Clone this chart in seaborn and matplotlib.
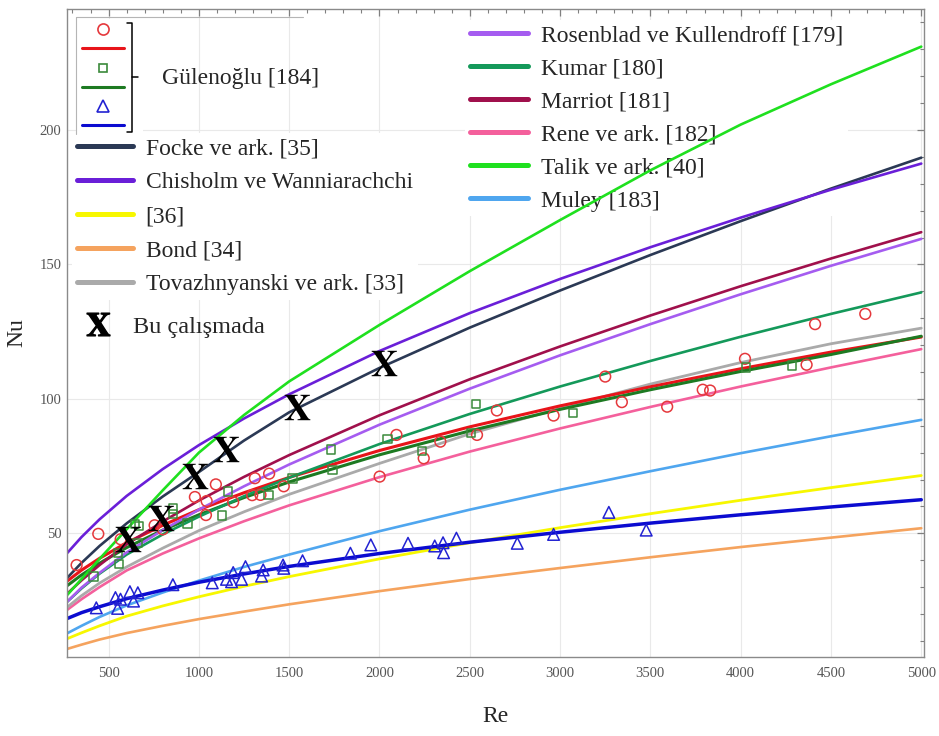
import numpy as np
import pandas as pd
import matplotlib
matplotlib.use("Agg")
import matplotlib.pyplot as plt
import seaborn as sns
from matplotlib.lines import Line2D
from matplotlib.ticker import MultipleLocator

sns.set_style("white")
plt.rcParams['font.family'] = ['Liberation Serif', 'DejaVu Serif']
plt.rcParams['mathtext.fontset'] = 'stix'

# ---------------- data ----------------
re_grid = [270, 350, 450, 600, 800, 1000, 1250, 1500, 2000, 2500, 3000, 3500, 4000, 4500, 5000]

nu_bond      = [7.0, 8.6, 10.5, 12.9, 15.6, 18.1, 20.9, 23.6, 28.5, 33.0, 37.1, 41.1, 44.9, 48.4, 51.9]
nu_yellow36  = [10.8, 13.0, 15.6, 19.2, 23.0, 26.4, 30.3, 33.9, 40.5, 46.5, 52.1, 57.3, 62.3, 67.0, 71.5]
nu_muley     = [12.8, 15.6, 18.9, 23.2, 28.0, 32.4, 37.5, 42.1, 50.8, 58.8, 66.2, 73.1, 79.8, 86.1, 92.2]
nu_fit_blue  = [18.3, 20.5, 22.7, 25.7, 28.9, 31.8, 34.9, 37.7, 42.5, 46.7, 50.4, 53.8, 56.9, 59.8, 62.5]
nu_rene      = [21.5, 25.5, 30.0, 36.2, 42.5, 48.1, 54.5, 60.4, 70.9, 80.4, 89.0, 97.0, 104.6, 111.7, 118.5]
nu_tovazh    = [22.5, 26.8, 31.5, 37.5, 44.5, 51.0, 58.0, 64.5, 76.0, 87.0, 96.5, 105.5, 113.5, 120.5, 126.3]
nu_fit_red   = [32.2, 36.3, 40.7, 46.5, 53.0, 58.8, 65.1, 70.8, 80.8, 89.6, 97.4, 104.5, 111.2, 117.4, 123.0]
nu_fit_green = [30.5, 34.5, 38.9, 44.7, 51.2, 56.9, 63.3, 69.1, 79.2, 88.1, 96.1, 103.4, 110.2, 116.5, 123.3]
nu_kumar     = [24.5, 29.5, 35.0, 42.1, 49.6, 56.2, 63.8, 70.7, 83.2, 94.4, 104.6, 114.1, 123.1, 131.6, 139.6]
nu_rosenblad = [24.5, 29.8, 35.3, 42.9, 51.2, 58.8, 67.5, 75.6, 90.4, 103.8, 116.2, 127.8, 138.9, 149.5, 159.5]
nu_marriot   = [27.5, 32.5, 38.2, 45.9, 54.4, 62.2, 71.0, 79.1, 93.9, 107.3, 119.5, 131.0, 141.9, 152.2, 162.0]
nu_focke     = [33.4, 39.0, 45.3, 53.7, 63.7, 72.8, 84.5, 95.0, 111.5, 126.5, 140.3, 153.5, 166.1, 178.2, 189.7]
nu_chisholm  = [42.6, 48.6, 55.2, 63.9, 73.9, 82.8, 92.7, 101.7, 117.8, 131.9, 144.6, 156.4, 167.4, 177.8, 187.5]
nu_talik     = [27.0, 33.0, 40.5, 51.5, 66.0, 80.0, 94.0, 106.5, 127.5, 147.5, 166.5, 185.0, 202.0, 217.0, 231.0]

# Gülenoğlu experimental points
re_circle = [323, 443, 567, 755, 800, 978, 1039, 1043, 1094, 1190, 1295, 1310, 1341, 1389, 1470,
             2001, 2094, 2245, 2337, 2540, 2650, 2964, 3250, 3342, 3593, 3790, 3831, 4024, 4365, 4412, 4690]
nu_circle = [38.2, 49.8, 47.8, 53.0, 51.5, 63.5, 56.8, 62.0, 68.2, 61.6, 64.2, 70.5, 64.3, 72.2, 67.5,
             71.1, 86.6, 77.9, 84.1, 86.6, 95.7, 93.8, 108.3, 98.8, 97.1, 103.4, 103.1, 114.9, 112.7, 127.8, 131.6]
re_square = [417, 553, 559, 645, 670, 660, 855, 858, 937, 1128, 1162, 1386, 1518, 1732, 1740,
             2045, 2237, 2508, 2536, 3071, 4030, 4285]
nu_square = [33.9, 42.6, 38.5, 53.5, 52.8, 46.5, 57.2, 59.2, 53.7, 56.6, 65.5, 64.3, 70.4, 81.2, 73.6,
             85.0, 80.6, 87.2, 98.1, 94.7, 111.7, 112.4]
re_tri = [432, 538, 550, 566, 618, 638, 662, 856, 1074, 1153, 1181, 1190, 1236, 1258, 1347, 1356,
          1466, 1470, 1574, 1839, 1952, 2158, 2306, 2352, 2355, 2426, 2763, 2964, 3270, 3477]
nu_tri = [22.3, 26.1, 22.1, 25.5, 28.3, 24.8, 27.9, 30.9, 31.6, 32.9, 32.0, 35.4, 32.9, 37.6, 34.1, 36.4,
          38.2, 37.0, 39.8, 42.6, 45.7, 46.3, 45.3, 46.5, 42.8, 48.2, 46.3, 49.6, 57.8, 51.2]

# "Bu çalışmada" points
re_this = [605, 793, 978, 1148, 1546, 2025]
nu_this = [47.8, 55.6, 71.3, 81.4, 97.1, 113.5]

# ---------------- styling ----------------
curves = [
    ("Bond [34]", nu_bond, "#f5a35e", 1.9),
    ("[36]", nu_yellow36, "#f7f700", 2.0),
    ("Muley [183]", nu_muley, "#4fa6ef", 1.9),
    ("fit_blue", nu_fit_blue, "#0b0bd0", 2.5),
    ("Rene ve ark. [182]", nu_rene, "#f4609c", 1.9),
    ("Tovazhnyanski ve ark. [33]", nu_tovazh, "#aaaaaa", 2.0),
    ("fit_red", nu_fit_red, "#e8141a", 2.2),
    ("fit_green", nu_fit_green, "#1d7a22", 2.2),
    ("Kumar [180]", nu_kumar, "#14995a", 1.9),
    ("Rosenblad ve Kullendroff [179]", nu_rosenblad, "#a55cf0", 1.9),
    ("Marriot [181]", nu_marriot, "#a0104c", 1.9),
    ("Focke ve ark. [35]", nu_focke, "#2b3955", 1.9),
    ("Chisholm ve Wanniarachchi", nu_chisholm, "#6a1fd8", 1.9),
    ("Talik ve ark. [40]", nu_talik, "#1fe01f", 1.9),
]
col = {name: c for name, _, c, _ in curves}

fig = plt.figure(figsize=(9.39, 7.36), dpi=100)
ax = fig.add_axes([0.0714, 0.1073, 0.9126, 0.8805])

for name, vals, c, lw in curves:
    d = pd.DataFrame({"Re": re_grid, "Nu": vals})
    sns.lineplot(data=d, x="Re", y="Nu", color=c, linewidth=lw, ax=ax,
                 estimator=None, sort=True, legend=False)

c_red, c_grn, c_blu = "#e5383c", "#3b8a3b", "#2222d2"
sns.scatterplot(x=re_circle, y=nu_circle, marker="o", s=60, color=c_red,
                facecolors="none", edgecolor=c_red, linewidth=1.1, ax=ax, zorder=4)
sns.scatterplot(x=re_square, y=nu_square, marker="s", s=36, color=c_grn,
                facecolors="none", edgecolor=c_grn, linewidth=1.1, ax=ax, zorder=4)
sns.scatterplot(x=re_tri, y=nu_tri, marker="^", s=70, color=c_blu,
                facecolors="none", edgecolor=c_blu, linewidth=1.1, ax=ax, zorder=4)
sns.scatterplot(x=re_this, y=nu_this, marker=r"$\mathbf{X}$", s=18.5 ** 2,
                color="black", linewidth=0, ax=ax, zorder=5)

# ---------------- axes ----------------
ax.set_xlim(270, 5015)
ax.set_ylim(4, 245)
ax.xaxis.set_major_locator(MultipleLocator(500))
ax.xaxis.set_minor_locator(MultipleLocator(100))
ax.yaxis.set_major_locator(MultipleLocator(50))
ax.yaxis.set_minor_locator(MultipleLocator(10))
ax.tick_params(which="both", direction="in", top=True, right=True, color="#808080")
ax.tick_params(which="major", length=5, width=0.9, labelsize=10.5, labelcolor="#555555")
ax.tick_params(which="minor", length=3, width=0.8)
ax.tick_params(axis="x", which="major", pad=7)
ax.tick_params(axis="y", which="major", pad=4)
ax.grid(which="major", color="#e9e9e9", linewidth=0.8)
for sp in ax.spines.values():
    sp.set_color("#8a8a8a")
    sp.set_linewidth(1.0)
ax.set_xlabel("Re", fontsize=17, labelpad=19)
ax.set_ylabel("Nu", fontsize=17, labelpad=9)

# ---------------- legends ----------------
def axx(px):
    return (px - 67) / 857.0

def axy(py):
    return (657 - py) / 648.0

tr = ax.transAxes

# Gülenoğlu group
h1 = [Line2D([], [], marker="o", ls="none", mfc="none", mec=c_red, mew=1.2, ms=8),
      Line2D([], [], color=col["fit_red"], lw=2.2),
      Line2D([], [], marker="s", ls="none", mfc="none", mec=c_grn, mew=1.2, ms=6),
      Line2D([], [], color=col["fit_green"], lw=2.2),
      Line2D([], [], marker="^", ls="none", mfc="none", mec=c_blu, mew=1.2, ms=8),
      Line2D([], [], color=col["fit_blue"], lw=2.2)]
leg1 = ax.legend(h1, [" "] * 6, loc="upper left", bbox_to_anchor=(axx(76), axy(19)),
                 borderaxespad=0, fontsize=9.4, labelspacing=0.53,
                 handlelength=3.2, borderpad=0.45, frameon=True, fancybox=False,
                 edgecolor="white", facecolor="white", framealpha=1)
leg1.get_frame().set_linewidth(0)
leg1.set_zorder(1)
ax.add_artist(leg1)
# thin box edges (top and left) of the group
ax.plot([axx(76), axx(76), axx(303)], [axy(134), axy(17), axy(17)], color="#b5b5b5",
        lw=0.8, transform=tr, zorder=1.2, clip_on=False)

ax.plot([axx(127), axx(132), axx(132), axx(127)], [axy(23), axy(23), axy(132), axy(132)],
        color="black", lw=1.1, transform=tr, zorder=7, clip_on=False)
ax.plot([axx(132), axx(138)], [axy(77), axy(77)], color="black", lw=1.1,
        transform=tr, zorder=7, clip_on=False)
ax.text(axx(162), axy(79), "Gülenoğlu [184]", transform=tr, fontsize=17,
        ha="left", va="center", zorder=7)

# right legend
right_names = ["Rosenblad ve Kullendroff [179]", "Kumar [180]", "Marriot [181]",
               "Rene ve ark. [182]", "Talik ve ark. [40]", "Muley [183]"]
h3 = [Line2D([], [], color=col[n], lw=3.6) for n in right_names]
leg3 = ax.legend(h3, right_names, loc="upper left", bbox_to_anchor=(axx(465), axy(20)),
                 borderaxespad=0, fontsize=17, labelspacing=0.49, handlelength=2.45,
                 handletextpad=0.55, borderpad=0.2, frameon=True, fancybox=False,
                 edgecolor="white", facecolor="white", framealpha=1)
leg3.get_frame().set_linewidth(0)
leg3.set_zorder(1)
ax.add_artist(leg3)

# "Bu çalışmada" entry
hx = [Line2D([], [], marker=r"$\mathbf{X}$", ls="none", color="black", ms=16.5)]
legx = ax.legend(hx, ["Bu çalışmada"], loc="upper left", bbox_to_anchor=(axx(81), axy(311)),
                 borderaxespad=0, fontsize=17.5, handlelength=1.0, handletextpad=0.95,
                 borderpad=0.2, frameon=False)
legx.set_zorder(1)
ax.add_artist(legx)

# left legend
left_names = ["Focke ve ark. [35]", "Chisholm ve Wanniarachchi", "[36]", "Bond [34]",
              "Tovazhnyanski ve ark. [33]"]
h2 = [Line2D([], [], color=col[n], lw=3.6) for n in left_names]
leg2 = ax.legend(h2, left_names, loc="upper left", bbox_to_anchor=(axx(72), axy(133)),
                 borderaxespad=0, fontsize=17, labelspacing=0.53, handlelength=2.37,
                 handletextpad=0.55, borderpad=0.2, frameon=True, fancybox=False,
                 edgecolor="white", facecolor="white", framealpha=1)
leg2.get_frame().set_linewidth(0)
leg2.set_zorder(1.1)

fig.savefig("out.png", dpi=100)
